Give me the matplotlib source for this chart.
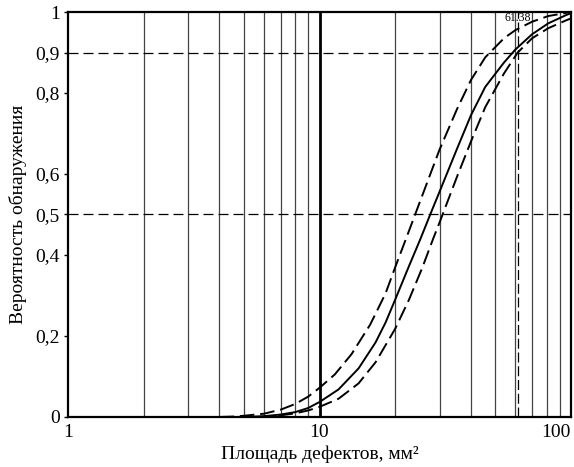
import matplotlib
matplotlib.use("Agg")
import matplotlib.pyplot as plt

plt.rcParams['font.family'] = ['Liberation Serif', 'DejaVu Serif']

x_mid = [5, 6, 7, 8, 9, 10, 11.9, 14.3, 16.7, 18.3, 20, 22.7, 25.2, 28.1, 30,
         35.2, 40, 45.6, 54.1, 60, 70, 81.2, 96.1, 100]
p_mid = [0.0, 0.002, 0.006, 0.012, 0.022, 0.037, 0.068, 0.12, 0.184, 0.233, 0.29, 0.373, 0.44, 0.513, 0.556,
         0.662, 0.745, 0.815, 0.875, 0.907, 0.945, 0.972, 0.993, 0.997]

x_up = [4.0, 4.5, 5, 6, 7, 8, 9, 10, 11.5, 13.4, 15.9, 18.3, 20, 22.7, 25.2,
        30, 35.2, 40, 45.6, 54.1, 60, 70, 81.2, 96.1, 100]
p_up = [0.0, 0.001, 0.003, 0.008, 0.018, 0.032, 0.05, 0.072, 0.105, 0.155, 0.228, 0.305, 0.37, 0.46, 0.535,
        0.66, 0.76, 0.832, 0.888, 0.935, 0.955, 0.976, 0.99, 0.998, 1.0]

x_lo = [5.7, 6.3, 7, 8, 9, 10, 11.9, 14.3, 16.7, 20, 22.7, 25.6, 28.3, 30,
        35.2, 40, 45.6, 54.1, 61.38, 70, 81.2, 96.1, 100]
p_lo = [0.0, 0.001, 0.004, 0.009, 0.016, 0.025, 0.045, 0.083, 0.135, 0.218, 0.29, 0.368, 0.44, 0.48,
        0.593, 0.68, 0.765, 0.848, 0.9, 0.935, 0.96, 0.98, 0.984]

a90_95 = 61.38
grid_x = [2, 3, 4, 5, 6, 7, 8, 9, 20, 30, 40, 50, 60, 70, 80, 90]
y_ticks = [0, 0.2, 0.4, 0.5, 0.6, 0.8, 0.9, 1]
y_labels = ['0', '0,2', '0,4', '0,5', '0,6', '0,8', '0,9', '1']

fig = plt.figure(figsize=(5.74, 4.67), dpi=100)
ax = fig.add_axes([0.1185, 0.1071, 0.8763, 0.8672])
ax.set_xscale('log')
ax.set_xlim(1, 100)
ax.set_ylim(0, 1)

for gx in grid_x:
    ax.axvline(gx, color='#444444', lw=0.9, zorder=1)
ax.axvline(10, color='black', lw=2, zorder=1)
for gy in [0.5, 0.9]:
    ax.axhline(gy, color='black', lw=0.9, ls=(0, (8, 4)), zorder=1)

ax.axvline(a90_95, color='black', lw=0.9, ls=(0, (8, 3)), zorder=2)
ax.text(a90_95, 0.985, '61.38', fontsize=8.5, ha='center', va='center', zorder=3)

ax.plot(x_mid, p_mid, color='black', lw=1.4, zorder=4)
ax.plot(x_up, p_up, color='black', lw=1.4, ls=(0, (7.5, 3)), zorder=4)
ax.plot(x_lo, p_lo, color='black', lw=1.4, ls=(0, (7.5, 3)), zorder=4)

ax.set_yticks(y_ticks)
ax.set_yticklabels(y_labels)
ax.set_xticks([1, 10, 100])
ax.set_xticklabels(['1', '10', '100'])
ax.xaxis.set_minor_locator(matplotlib.ticker.NullLocator())
ax.tick_params(axis='x', length=0, pad=5, labelsize=14)
ax.tick_params(axis='y', length=3, width=1, pad=3, labelsize=14)
ax.get_xticklabels()[2].set_ha('right')

for s in ax.spines.values():
    s.set_linewidth(1.6)

ax.set_xlabel('Площадь дефектов, мм²', fontsize=14, labelpad=3)
ax.set_ylabel('Вероятность обнаружения', fontsize=14, labelpad=6)

fig.savefig('out.png', dpi=100)
